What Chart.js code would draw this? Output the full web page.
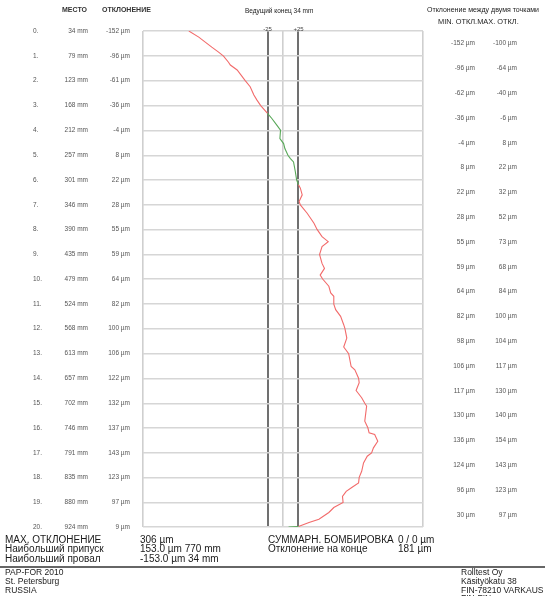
<!DOCTYPE html>
<html>
<head>
<meta charset="utf-8">
<script src="https://cdn.jsdelivr.net/npm/chart.js@4.4.0/dist/chart.umd.min.js"></script>
<style>
  body { margin: 0; background: #fff; }
  #wrap { position: relative; width: 545px; height: 596px; overflow: hidden; font-family: "Liberation Sans", Arial, sans-serif; }
  #chart { position: absolute; left: 0; top: 0; }
  .t { position: absolute; white-space: nowrap; color: #222; }
  .hdr { font-size: 7px; font-weight: bold; color: #333; }
  .sum { font-size: 10px; line-height: 9.3px; color: #1a1a1a; }
  .foot { font-size: 8.5px; line-height: 8.8px; color: #1a1a1a; }
  #rule { position: absolute; left: 0; top: 566px; width: 545px; height: 2px; background: #666; }
</style>
</head>
<body>
<div id="wrap">
  <canvas id="chart" width="545" height="596"></canvas>

  <div class="t hdr" style="left:62px; top:6px;">МЕСТО</div>
  <div class="t hdr" style="left:102px; top:6px;">ОТКЛОНЕНИЕ</div>
  <div class="t hdr" style="left:245px; top:7px; font-weight:normal; font-size:6.5px; color:#222;">Ведущий конец 34 mm</div>
  <div class="t hdr" style="left:427px; top:6px; font-weight:normal; font-size:7px; color:#222;">Отклонение между двумя точками</div>
  <div class="t hdr" style="left:438px; top:17px; font-weight:normal; font-size:7.4px; color:#222;">MIN. ОТКЛ.MAX. ОТКЛ.</div>

  <div class="t sum" style="left:5px; top:535px;">МАХ. ОТКЛОНЕНИЕ<br>Наибольший припуск<br>Наибольший провал</div>
  <div class="t sum" style="left:140px; top:535px;">306 µm<br>153.0 µm 770 mm<br>-153.0 µm 34 mm</div>
  <div class="t sum" style="left:268px; top:535px;">СУММАРН. БОМБИРОВКА<br>Отклонение на конце</div>
  <div class="t sum" style="left:398px; top:535px;">0 / 0 µm<br>181 µm</div>

  <div id="rule"></div>
  <div class="t foot" style="left:5px; top:568px;">PAP-FOR 2010<br>St. Petersburg<br>RUSSIA</div>
  <div class="t foot" style="left:461px; top:568px;">Rolltest Oy<br>Käsityökatu 38<br>FIN-78210 VARKAUS<br>FIN-FIN</div>
</div>

<script>
// measuring rows (position along the roll, deviation at that point)
const rowPos = [34, 79, 123, 168, 212, 257, 301, 346, 390, 435, 479, 524, 568, 613, 657, 702, 746, 791, 835, 880, 924];
const rowDev = [-152, -96, -61, -36, -4, 8, 22, 28, 55, 59, 64, 82, 100, 106, 122, 132, 137, 143, 123, 97, 9];

// deviation between two points: min / max for each interval
const spanMin = [-152, -96, -62, -36, -4, 8, 22, 28, 55, 59, 64, 82, 98, 106, 117, 130, 136, 124, 96, 30];
const spanMax = [-100, -64, -40, -6, 8, 22, 32, 52, 73, 68, 84, 100, 104, 117, 130, 140, 154, 143, 123, 97];

// profile trace: position (mm) and deviation (µm)
const tracePos = [34, 45, 63, 72, 79, 90, 95, 104, 123, 134, 149, 158, 168, 182, 191, 203, 212, 227, 236, 245, 257,
  263, 269, 287, 301, 310, 316, 328, 340, 346, 361, 379, 390, 403, 412, 421, 435, 451, 460, 472, 479, 492, 504, 510,
  524, 534, 546, 561, 568, 585, 601, 613, 636, 642, 657, 665, 679, 692, 702, 707, 734, 746, 755, 758, 770, 782, 791,
  797, 809, 824, 835, 845, 853, 860, 869, 880, 889, 898, 910, 916, 923, 924];
const traceDev = [-152, -136, -115, -104, -96, -88, -85, -74, -61, -53, -47, -42, -36, -25, -18, -10, -4, -5, 1, 3, 8,
  12, 17, 20, 22, 25, 28, 31, 26, 28, 39, 50, 55, 63, 73, 63, 59, 63, 67, 60, 64, 74, 77, 82,
  82, 85, 93, 98, 100, 103, 98, 106, 110, 116, 122, 123, 118, 127, 132, 135, 132, 137, 139, 148, 153, 146, 143,
  136, 130, 127, 123, 122, 111, 102, 96, 97, 82, 74, 58, 42, 25, 9];

const TOL = 25;
const RED = '#f26b6b';
const GREEN = '#58a858';

const points = tracePos.map((p, i) => ({ x: traceDev[i], y: p }));

const tablePlugin = {
    id: 'tablePlugin',
    afterDraw(chart) {
        const ctx = chart.ctx;
        const ys = chart.scales.y;
        const xs = chart.scales.x;
        ctx.save();
        ctx.fillStyle = '#555';
        ctx.font = '6.5px "Liberation Sans", Arial, sans-serif';
        ctx.textBaseline = 'middle';

        // left table: index, position, deviation
        rowPos.forEach((p, i) => {
            const y = ys.getPixelForValue(p);
            ctx.textAlign = 'left';
            ctx.fillText(i + '.', 33, y);
            ctx.textAlign = 'right';
            ctx.fillText(p + ' mm', 88, y);
            ctx.fillText(rowDev[i] + ' µm', 130, y);
        });

        // right table: min / max between two points
        spanMin.forEach((v, i) => {
            const y = ys.getPixelForValue((rowPos[i] + rowPos[i + 1]) / 2);
            ctx.textAlign = 'right';
            ctx.fillText(v + ' µm', 475, y);
            ctx.fillText(spanMax[i] + ' µm', 517, y);
        });

        // tolerance labels
        ctx.fillStyle = '#444';
        ctx.font = '6px "Liberation Sans", Arial, sans-serif';
        ctx.textAlign = 'center';
        ctx.textBaseline = 'bottom';
        ctx.fillText('-25', xs.getPixelForValue(-TOL), chart.chartArea.top + 1);
        ctx.fillText('+25', xs.getPixelForValue(TOL), chart.chartArea.top + 1);
        ctx.restore();
    }
};

new Chart(document.getElementById('chart'), {
    type: 'scatter',
    data: {
        datasets: [{
            data: points,
            showLine: true,
            pointRadius: 0,
            borderWidth: 1.1,
            borderColor: RED,
            segment: {
                borderColor: c => (Math.abs(c.p0.parsed.x) <= TOL + 0.5 && Math.abs(c.p1.parsed.x) <= TOL + 0.5) ? GREEN : RED
            }
        }]
    },
    options: {
        responsive: false,
        animation: false,
        layout: { padding: { left: 143, right: 122, top: 31, bottom: 69 } },
        plugins: { legend: { display: false }, tooltip: { enabled: false } },
        scales: {
            x: {
                type: 'linear', min: -226, max: 226,
                afterBuildTicks: s => { s.ticks = [-226, -TOL, 0, TOL, 226].map(v => ({ value: v })); },
                ticks: { display: false },
                border: { display: false },
                grid: {
                    drawTicks: false,
                    color: c => Math.abs(c.tick.value) === TOL ? '#707070' : '#cfcfcf',
                    lineWidth: c => Math.abs(c.tick.value) === TOL ? 2 : 1.6
                }
            },
            y: {
                type: 'linear', min: 34, max: 924, reverse: true,
                afterBuildTicks: s => { s.ticks = rowPos.map(v => ({ value: v })); },
                ticks: { display: false },
                border: { display: false },
                grid: { drawTicks: false, color: '#d6d6d6', lineWidth: 1.4 }
            }
        }
    },
    plugins: [tablePlugin]
});
</script>
</body>
</html>
